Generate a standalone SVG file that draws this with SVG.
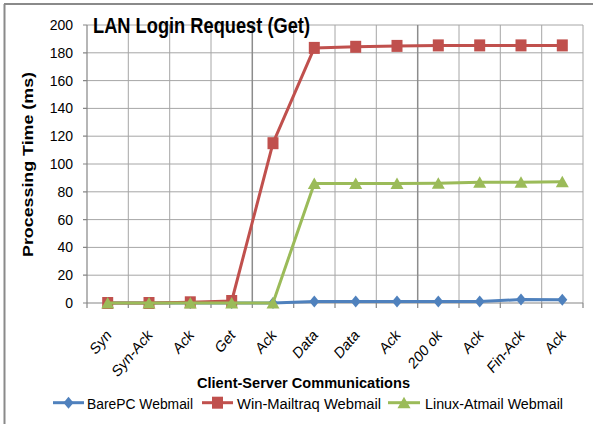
<svg xmlns="http://www.w3.org/2000/svg" width="593" height="424" viewBox="0 0 593 424">
<style>
.grid{stroke:#a6a6a6;stroke-width:1;fill:none}
.gridd{stroke:#8c8c8c;stroke-width:1.5;fill:none}
.axis{stroke:#868686;stroke-width:1.2;fill:none}
.ytl{font-family:"Liberation Sans",Arial,sans-serif;font-size:14px;fill:#000;text-anchor:end}
.xtl{font-family:"Liberation Sans",Arial,sans-serif;font-size:13.5px;fill:#000;text-anchor:end}
.ttl{font-family:"Liberation Sans",Arial,sans-serif;font-weight:bold;fill:#000}
.leg{font-family:"Liberation Sans",Arial,sans-serif;font-size:15.5px;fill:#000}
.blue{stroke:#4f81bd;stroke-width:3;fill:none;stroke-linejoin:round}
.red{stroke:#c0504d;stroke-width:3;fill:none;stroke-linejoin:round}
.green{stroke:#9bbb59;stroke-width:3;fill:none;stroke-linejoin:round}
</style>
<defs>
<marker id="mb" markerUnits="userSpaceOnUse" markerWidth="14" markerHeight="14" refX="7" refY="7" overflow="visible"><path d="M7,1 L12,7 L7,13 L2,7Z" fill="#4f81bd"/></marker>
<marker id="mr" markerUnits="userSpaceOnUse" markerWidth="14" markerHeight="14" refX="7" refY="7" overflow="visible"><rect x="1.5" y="1" width="11" height="12" fill="#c0504d"/></marker>
<marker id="mg" markerUnits="userSpaceOnUse" markerWidth="14" markerHeight="14" refX="7" refY="7" overflow="visible"><path d="M7,1 L13.5,12.5 L0.5,12.5Z" fill="#9bbb59"/></marker>
</defs>
<g id="frame">
<line x1="4" y1="4" x2="593" y2="4" stroke="#8a8a8a" stroke-width="2"/>
<line x1="4.5" y1="4" x2="4.5" y2="424" stroke="#8a8a8a" stroke-width="2"/>
</g>
<g id="gridlines">
<path class="grid" d="M87,25H583M87,52.8H583M87,80.6H583M87,108.4H583M87,136.2H583M87,164H583M87,191.8H583M87,219.6H583M87,247.4H583M87,275.2H583"/>
<path class="grid" d="M128.3,25V303M169.7,25V303M211,25V303M293.7,25V303M335,25V303M376.3,25V303M459,25V303M500.3,25V303M541.7,25V303M583,25V303"/>
<path class="gridd" d="M252.3,25V303M417.7,25V303"/>
</g>
<g id="axes">
<path class="axis" d="M87,25V303M87,303H583"/>
<path class="axis" d="M83,25H87M83,52.8H87M83,80.6H87M83,108.4H87M83,136.2H87M83,164H87M83,191.8H87M83,219.6H87M83,247.4H87M83,275.2H87M83,303H87"/>
<path class="axis" d="M87,303V308M128.3,303V308M169.7,303V308M211,303V308M252.3,303V308M293.7,303V308M335,303V308M376.3,303V308M417.7,303V308M459,303V308M500.3,303V308M541.7,303V308M583,303V308"/>
</g>
<g id="y-labels">
<text class="ytl" x="73" y="30">200</text>
<text class="ytl" x="73" y="57.8">180</text>
<text class="ytl" x="73" y="85.6">160</text>
<text class="ytl" x="73" y="113.4">140</text>
<text class="ytl" x="73" y="141.2">120</text>
<text class="ytl" x="73" y="169">100</text>
<text class="ytl" x="73" y="196.8">80</text>
<text class="ytl" x="73" y="224.6">60</text>
<text class="ytl" x="73" y="252.4">40</text>
<text class="ytl" x="73" y="280.2">20</text>
<text class="ytl" x="73" y="308">0</text>
</g>
<g id="x-labels">
<text class="xtl" transform="translate(112,336) scale(1,1.18) rotate(-45)">Syn</text>
<text class="xtl" transform="translate(153,336) scale(1,1.18) rotate(-45)">Syn-Ack</text>
<text class="xtl" transform="translate(194.5,336) scale(1,1.18) rotate(-45)">Ack</text>
<text class="xtl" transform="translate(236,336) scale(1,1.18) rotate(-45)">Get</text>
<text class="xtl" transform="translate(277,336) scale(1,1.18) rotate(-45)">Ack</text>
<text class="xtl" transform="translate(318.5,336) scale(1,1.18) rotate(-45)">Data</text>
<text class="xtl" transform="translate(360,336) scale(1,1.18) rotate(-45)">Data</text>
<text class="xtl" transform="translate(401,336) scale(1,1.18) rotate(-45)">Ack</text>
<text class="xtl" transform="translate(442.5,336) scale(1,1.18) rotate(-45)">200 ok</text>
<text class="xtl" transform="translate(484,336) scale(1,1.18) rotate(-45)">Ack</text>
<text class="xtl" transform="translate(525,336) scale(1,1.18) rotate(-45)">Fin-Ack</text>
<text class="xtl" transform="translate(566.5,336) scale(1,1.18) rotate(-45)">Ack</text>
</g>
<g id="connectors">
<polyline id="series-barepc" class="blue" marker-start="url(#mb)" marker-mid="url(#mb)" marker-end="url(#mb)" points="107.7,303 149,303 190.3,303 231.7,303 273,303 314.3,301.6 355.7,301.6 397,301.6 438.3,301.6 479.7,301.6 521,299.5 562.3,299.8"/>
<polyline id="series-win" class="red" marker-start="url(#mr)" marker-mid="url(#mr)" marker-end="url(#mr)" points="107.7,303 149,303 190.3,302.3 231.7,301 273,143.2 314.3,47.9 355.7,46.8 397,45.9 438.3,45.4 479.7,45.4 521,45.4 562.3,45.4"/>
<polyline id="series-linux" class="green" marker-start="url(#mg)" marker-mid="url(#mg)" marker-end="url(#mg)" points="107.7,303 149,303 190.3,303 231.7,303 273,303 314.3,183.5 355.7,183.5 397,183.5 438.3,183.3 479.7,182.3 521,182.3 562.3,181.7"/>
</g>
<g id="title">
<text class="ttl" x="93" y="32.5" font-size="21.5" textLength="217" lengthAdjust="spacingAndGlyphs">LAN Login Request (Get)</text>
</g>
<g id="y-title">
<text class="ttl" transform="translate(33,164.5) rotate(-90)" font-size="14" text-anchor="middle" textLength="185" lengthAdjust="spacingAndGlyphs">Processing Time (ms)</text>
</g>
<g id="x-title">
<text class="ttl" x="303.5" y="387.5" font-size="15" text-anchor="middle" textLength="213" lengthAdjust="spacingAndGlyphs">Client-Server Communications</text>
</g>
<g id="legend">
<g id="legend-barepc">
<line x1="53" y1="402.7" x2="84" y2="402.7" class="blue"/>
<path d="M68.5,396.7 L73.5,402.7 L68.5,408.7 L63.5,402.7Z" fill="#4f81bd"/>
<text class="leg" x="87" y="409" textLength="106" lengthAdjust="spacingAndGlyphs">BarePC Webmail</text>
</g>
<g id="legend-win">
<line x1="202" y1="402.7" x2="233" y2="402.7" class="red"/>
<rect x="212" y="396.7" width="11" height="12" fill="#c0504d"/>
<text class="leg" x="237" y="409" textLength="144" lengthAdjust="spacingAndGlyphs">Win-Mailtraq Webmail</text>
</g>
<g id="legend-linux">
<line x1="388" y1="402.7" x2="420" y2="402.7" class="green"/>
<path d="M404,396.7 L410.5,408.2 L397.5,408.2Z" fill="#9bbb59"/>
<text class="leg" x="425" y="409" textLength="138" lengthAdjust="spacingAndGlyphs">Linux-Atmail Webmail</text>
</g>
</g>
</svg>
